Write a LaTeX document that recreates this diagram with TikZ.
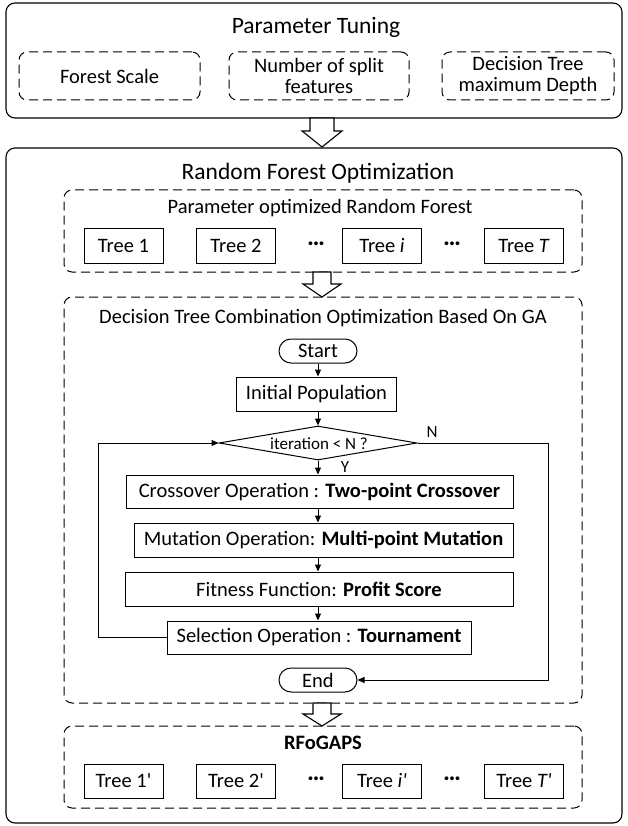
\documentclass[tikz,border=0pt]{standalone}
\usepackage{fontspec}
\setmainfont{Carlito}
\usetikzlibrary{shapes.geometric,arrows.meta,calc}
\begin{document}
\begin{tikzpicture}[x=1pt,y=-1pt,
  every node/.style={font=\fontsize{20.5}{21}\selectfont, inner sep=0pt},
  solidbox/.style={draw, line width=1.1pt, rounded corners=9pt},
  dbox/.style={draw, line width=1pt, dash pattern=on 9pt off 5pt, rounded corners=8pt},
  treebox/.style={draw, line width=1pt, minimum width=79pt, minimum height=35pt},
  proc/.style={draw, line width=1pt, minimum height=34pt},
  term/.style={draw, line width=1pt, rounded corners=12pt, minimum width=78pt, minimum height=24pt},
  flow/.style={line width=1pt, -{Triangle[length=7pt,width=6pt]}},
  ttl/.style={font=\fontsize{23.5}{26}\selectfont},
  small/.style={font=\fontsize{17}{18}\selectfont},
  hollow/.style={draw, line width=1.1pt, fill=white, line join=miter}
]
\useasboundingbox (0,0) rectangle (627,826);

% ---------- Parameter Tuning ----------
\node[solidbox, minimum width=616pt, minimum height=115pt] (ptbox) at (314,60.5) {};
\node[ttl] (ptt) at (316,27) {Parameter Tuning};
\node[dbox, minimum width=181pt, minimum height=48pt] (fs) at (109.5,76) {Forest Scale};
\node[dbox, minimum width=180pt, minimum height=48pt, align=center] (nsf) at (319,76) {Number of split\\features};
\node[dbox, minimum width=172pt, minimum height=48pt, align=center] (dtd) at (528,76) {Decision Tree\\maximum Depth};

% ---------- Random Forest Optimization ----------
\node[solidbox, minimum width=616pt, minimum height=675pt] (rfo) at (314,485.5) {};
\node[ttl] (rfot) at (318,173) {Random Forest Optimization};

\node[dbox, minimum width=518pt, minimum height=82pt] (porf) at (323,231) {};
\node (porft) at (320,208) {Parameter optimized Random Forest};
\node[treebox] (t1) at (123.5,245.5) {Tree 1};
\node[treebox] (t2) at (236,245.5) {Tree 2};
\node (d1) at (316,245.5) {\textbf{···}};
\node[treebox] (ti) at (382,245.5) {Tree \textit{i}};
\node (d2) at (452,245.5) {\textbf{···}};
\node[treebox] (tT) at (524,245.5) {Tree \textit{T}};

% ---------- GA ----------
\node[dbox, minimum width=518pt, minimum height=406pt] (ga) at (323,500) {};
\node (gat) at (323,318) {Decision Tree Combination Optimization Based On GA};
\node[term] (start) at (318,351) {Start};
\node[proc, minimum width=160pt] (init) at (316.5,394) {Initial Population};
\node[diamond, draw, line width=1pt, minimum width=198pt, minimum height=34pt] (dia) at (318,443) {};
\node[small] (diat) at (319,444) {iteration < N ?};
\node[proc, minimum width=387pt, minimum height=33pt] (cross) at (319.5,491.5) {Crossover Operation : \textbf{Two-point Crossover}};
\node[proc, minimum width=379pt] (mut) at (323.5,540) {Mutation Operation: \textbf{Multi-point Mutation}};
\node[proc, minimum width=388pt] (fit) at (319,589) {Fitness Function: \textbf{Profit Score}};
\node[proc, minimum width=304pt, minimum height=33pt] (sel) at (319,637.5) {Selection Operation : \textbf{Tournament}};
\node[term] (stop) at (318,680) {End};

\draw[flow] (start) -- (start |- init.north);
\draw[flow] (init.south -| dia) -- (dia);
\draw[flow] (dia.south) -- (dia.south |- cross.north);
\draw[flow] (cross.south -| dia) -- (mut.north -| dia);
\draw[flow] (mut.south -| dia) -- (fit.north -| dia);
\draw[flow] (fit.south -| dia) -- (sel.north -| dia);
\draw[flow] (sel.west) -- ++(-68,0) |- (dia.west);
\draw[flow] (dia.east) -- ++(131,0) |- (stop.east);
\node[small] (ylab) at (345,467) {Y};
\node[small] (nlab) at (432,432) {N};

% ---------- RFoGAPS ----------
\node[dbox, minimum width=518pt, minimum height=82pt] (rfg) at (323,767) {};
\node (rfgt) at (323,743) {\textbf{RFoGAPS}};
\node[treebox, minimum height=34pt] (u1) at (123.5,781) {Tree 1\textquotesingle};
\node[treebox, minimum height=34pt] (u2) at (236,781) {Tree 2\textquotesingle};
\node (e1) at (316,781) {\textbf{···}};
\node[treebox, minimum height=34pt] (ui) at (382,781) {Tree \textit{i\textquotesingle}};
\node (e2) at (452,781) {\textbf{···}};
\node[treebox, minimum height=34pt] (uT) at (524,781) {Tree \textit{T\textquotesingle}};

% ---------- hollow arrows ----------
\draw[hollow] (310,118) -- (310,131) -- (302,131) -- (322,147) -- (342,131) -- (334,131) -- (334,118) -- cycle;
\draw[hollow] (313,272) -- (313,284) -- (303,284) -- (322,297) -- (341,284) -- (331,284) -- (331,272) -- cycle;
\draw[hollow] (313,703) -- (313,714) -- (303,714) -- (322,726) -- (341,714) -- (331,714) -- (331,703) -- cycle;
\end{tikzpicture}
\end{document}
